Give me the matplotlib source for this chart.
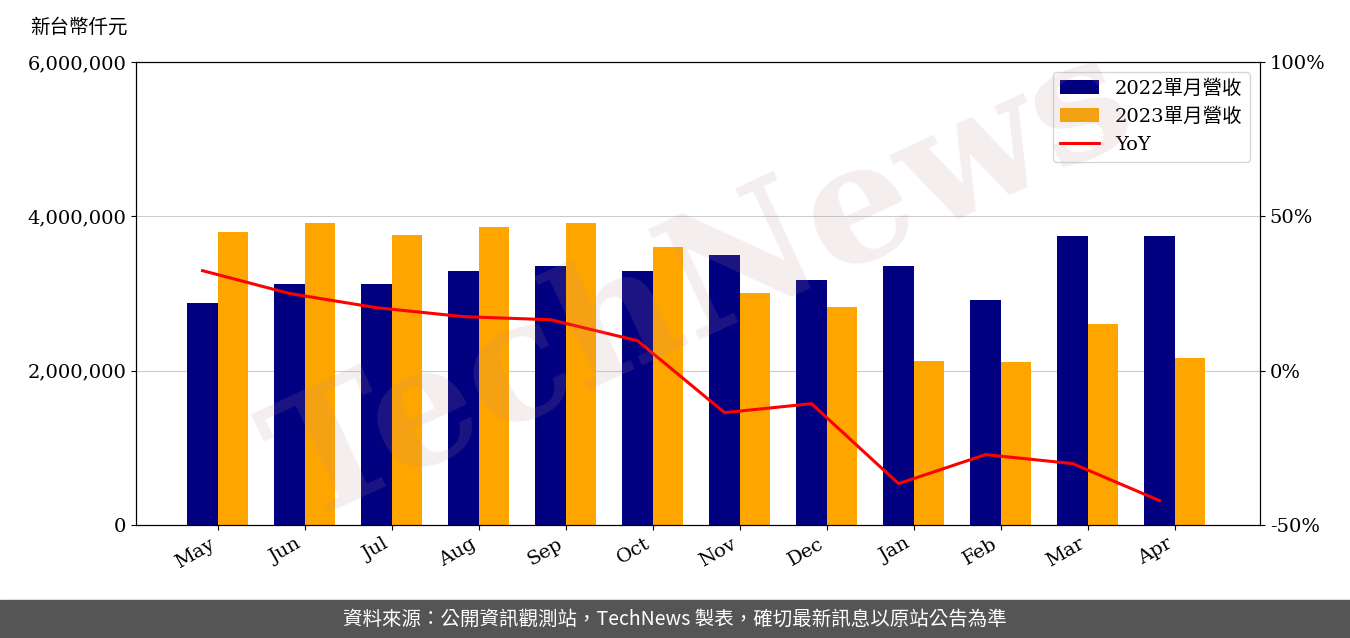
import matplotlib.pyplot as plt
import numpy as np

plt.rcParams['font.family'] = ['DejaVu Serif', 'Noto Sans CJK TC']

months = ['May', 'Jun', 'Jul', 'Aug', 'Sep', 'Oct', 'Nov', 'Dec', 'Jan', 'Feb', 'Mar', 'Apr']
rev_2022 = [2877000, 3120000, 3120000, 3290000, 3360000, 3290000, 3500000, 3170000, 3360000, 2920000, 3740000, 3740000]
rev_2023 = [3800000, 3910000, 3760000, 3860000, 3910000, 3600000, 3010000, 2820000, 2130000, 2110000, 2600000, 2160000]
yoy = [32.4, 25.0, 20.4, 17.5, 16.5, 9.7, -13.6, -10.7, -36.6, -27.2, -30.1, -42.1]

fig = plt.figure(figsize=(13.5, 6.38), dpi=100)
ax1 = fig.add_axes([136/1350, 1-525/638, 1124/1350, 463/638])

x = np.arange(len(months))
w = 0.35
b1 = ax1.bar(x - w/2, rev_2022, w, color='#000080', label='2022單月營收')
b2 = ax1.bar(x + w/2, rev_2023, w, color='#FFA500', label='2023單月營收')
ax1.set_ylim(0, 6000000)
ax1.set_yticks([0, 2000000, 4000000, 6000000])
ax1.set_yticklabels(['0', '2,000,000', '4,000,000', '6,000,000'], fontsize=14)
ax1.set_xticks(x)
ax1.set_xticklabels(months, rotation=30, ha='right', fontsize=14)
ax1.set_xlim(-0.94, 11.98)
ax1.yaxis.grid(True, color='#cccccc')
ax1.set_axisbelow(True)

ax2 = ax1.twinx()
l, = ax2.plot(x - w/2, yoy, color='red', lw=2.2, label='YoY')
ax2.set_ylim(-50, 100)
ax2.set_yticks([-50, 0, 50, 100])
ax2.set_yticklabels(['-50%', '0%', '50%', '100%'], fontsize=14)

ax1.legend([b1, b2, l], ['2022單月營收', '2023單月營收', 'YoY'], loc='upper right', fontsize=14)

fig.text(30/1350, 1-27/638, '新台幣仟元', fontsize=14, va='center',
         family=['Noto Sans CJK TC', 'DejaVu Sans'])
fig.text(0.52, 0.55, 'TechNews', fontsize=120, color='#c09090', alpha=0.15, rotation=25,
         ha='center', va='center', fontweight='bold', zorder=10)

fig.patches.append(plt.Rectangle((0, 0), 1, 38/638, transform=fig.transFigure,
                                 color='#555555', zorder=5))
fig.text(0.5, 19/638, '資料來源：公開資訊觀測站，TechNews 製表，確切最新訊息以原站公告為準',
         color='white', fontsize=14, ha='center', va='center',
         family=['Noto Sans CJK TC', 'DejaVu Sans'], zorder=6)

fig.savefig('out.png')
